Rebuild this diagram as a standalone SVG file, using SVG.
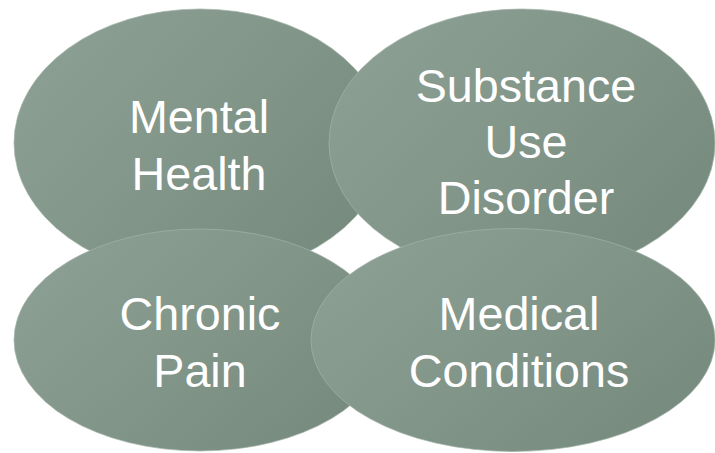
<svg xmlns="http://www.w3.org/2000/svg" width="715" height="453" viewBox="0 0 715 453">
  <defs>
    <linearGradient id="fillSage" x1="0" y1="0.1" x2="1" y2="0.75">
      <stop offset="0" stop-color="#8da095"/>
      <stop offset="0.45" stop-color="#84978b"/>
      <stop offset="1" stop-color="#768a7e"/>
    </linearGradient>
  </defs>
  <style>
    .blob { fill: url(#fillSage); stroke: #a3b3a9; stroke-opacity: 0.7; stroke-width: 1; }
    .label { font-family: "Liberation Sans", Arial, sans-serif; font-size: 46.7px; fill: #ffffff; text-anchor: middle; }
  </style>
  <rect width="715" height="453" fill="#ffffff"/>

  <g id="mental-health">
    <ellipse class="blob" cx="200" cy="143" rx="186" ry="134"/>
    <text class="label" x="199" y="133">Mental</text>
    <text class="label" x="199" y="190">Health</text>
  </g>

  <g id="substance-use-disorder">
    <ellipse class="blob" cx="522" cy="143" rx="193" ry="134"/>
    <text class="label" x="526" y="102">Substance</text>
    <text class="label" x="526" y="158">Use</text>
    <text class="label" x="526" y="214">Disorder</text>
  </g>

  <g id="chronic-pain">
    <ellipse class="blob" cx="200" cy="340" rx="186" ry="111"/>
    <text class="label" x="200" y="330">Chronic</text>
    <text class="label" x="200" y="387">Pain</text>
  </g>

  <g id="medical-conditions">
    <ellipse class="blob" cx="513" cy="340" rx="202" ry="111.5"/>
    <text class="label" x="519" y="330">Medical</text>
    <text class="label" x="519" y="387">Conditions</text>
  </g>

  <g id="connectors"/>
</svg>
